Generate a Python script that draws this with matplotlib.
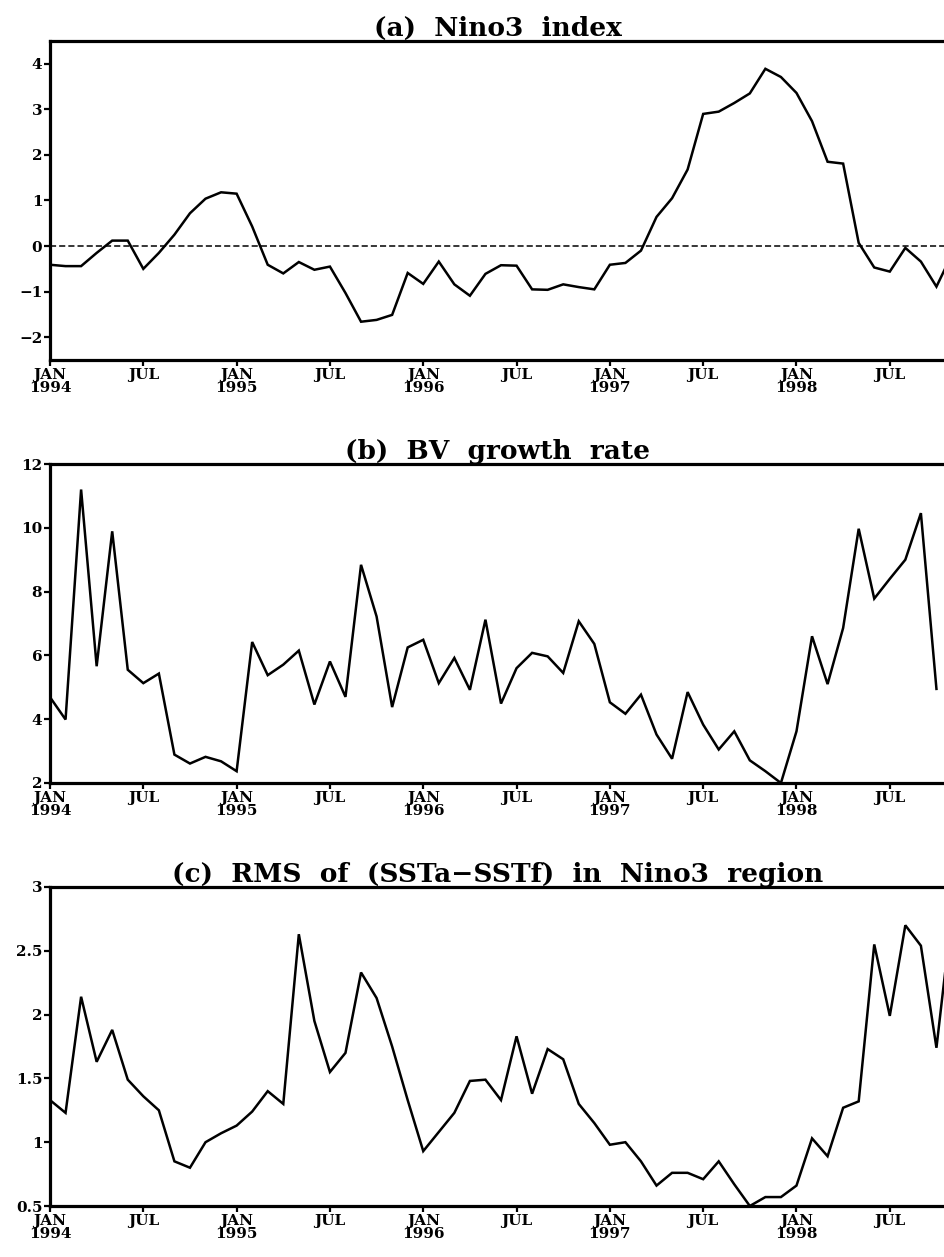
import matplotlib
matplotlib.use("Agg")
import matplotlib.pyplot as plt

# months since JAN 1994
nino3 = [-0.41, -0.44, -0.44, -0.15, 0.12, 0.12, -0.50, -0.15, 0.25, 0.72,
         1.04, 1.18, 1.15, 0.43, -0.41, -0.60, -0.35, -0.52, -0.45, -1.03,
         -1.66, -1.62, -1.51, -0.59, -0.83, -0.34, -0.84, -1.09, -0.61, -0.42,
         -0.43, -0.95, -0.96, -0.84, -0.90, -0.95, -0.41, -0.37, -0.10, 0.64,
         1.05, 1.68, 2.90, 2.95, 3.14, 3.35, 3.89, 3.71, 3.36, 2.74,
         1.85, 1.81, 0.07, -0.47, -0.56, -0.04, -0.34, -0.89, -0.18]

bv_growth = [4.69, 3.99, 11.2, 5.66, 9.89, 5.55, 5.13, 5.43, 2.89, 2.61,
             2.82, 2.68, 2.37, 6.42, 5.38, 5.71, 6.15, 4.46, 5.81, 4.70,
             8.84, 7.22, 4.38, 6.25, 6.49, 5.13, 5.92, 4.92, 7.12, 4.49,
             5.60, 6.08, 5.97, 5.45, 7.07, 6.36, 4.53, 4.17, 4.77, 3.52,
             2.76, 4.85, 3.83, 3.05, 3.62, 2.71, 2.37, 2.00, 3.62, 6.60,
             5.10, 6.86, 9.97, 7.78, 8.40, 9.00, 10.46, 4.95]

rms_err = [1.33, 1.23, 2.14, 1.63, 1.88, 1.49, 1.36, 1.25, 0.85, 0.80,
           1.00, 1.07, 1.13, 1.24, 1.40, 1.30, 2.63, 1.95, 1.55, 1.70,
           2.33, 2.13, 1.75, 1.33, 0.93, 1.08, 1.23, 1.48, 1.49, 1.33,
           1.83, 1.38, 1.73, 1.65, 1.30, 1.15, 0.98, 1.00, 0.85, 0.66,
           0.76, 0.76, 0.71, 0.85, 0.67, 0.50, 0.57, 0.57, 0.66, 1.03,
           0.89, 1.27, 1.32, 2.55, 1.99, 2.70, 2.54, 1.74, 2.80]

xtick_months = [0, 6, 12, 18, 24, 30, 36, 42, 48, 54]
xtick_labels = ["JAN\n1994", "JUL", "JAN\n1995", "JUL", "JAN\n1996", "JUL",
                "JAN\n1997", "JUL", "JAN\n1998", "JUL"]

titles = ["(a)  Nino3  index", "(b)  BV  growth  rate",
          "(c)  RMS  of  (SSTa\u2212SSTf)  in  Nino3  region"]
yticks = [[-2, -1, 0, 1, 2, 3, 4], [2, 4, 6, 8, 10, 12],
          [0.5, 1, 1.5, 2, 2.5, 3]]
yticklabels = [["\u22122", "\u22121", "0", "1", "2", "3", "4"],
               ["2", "4", "6", "8", "10", "12"],
               ["0.5", "1", "1.5", "2", "2.5", "3"]]
ylims = [(-2.5, 4.5), (2, 12), (0.5, 3)]
series = [nino3, bv_growth, rms_err]

W, H = 945, 1257
fig = plt.figure(figsize=(W / 100, H / 100), dpi=100)
fig.patch.set_facecolor("white")

# (top, bottom) pixel rows of each panel
rows = [(41, 360), (464, 783), (887, 1206)]
left, right = 50, 945
font = "DejaVu Serif"

for i, (top, bot) in enumerate(rows):
    ax = fig.add_axes([left / W, 1 - bot / H, (right - left) / W, (bot - top) / H])
    y = series[i]
    ax.plot(range(len(y)), y, color="black", lw=1.8, solid_joinstyle="miter")
    if i == 0:
        ax.axhline(0, color="black", lw=1.1, ls=(0, (4, 2)))
    ax.set_xlim(0, 57.55)
    ax.set_ylim(*ylims[i])
    ax.set_yticks(yticks[i])
    ax.set_yticklabels(yticklabels[i], fontfamily=font, fontweight="bold", fontsize=11)
    ax.set_xticks(xtick_months)
    ax.set_xticklabels(xtick_labels, fontfamily=font, fontweight="bold", fontsize=11,
                       linespacing=0.95)
    for s in ["left", "bottom", "top"]:
        ax.spines[s].set_linewidth(2.3)
    ax.spines["right"].set_visible(False)
    ax.tick_params(direction="out", length=4, width=1.6, pad=1.5)
    ax.set_title(titles[i], fontfamily=font, fontweight="bold", fontsize=19, pad=2)

fig.savefig("out.png", dpi=100, facecolor="white")
